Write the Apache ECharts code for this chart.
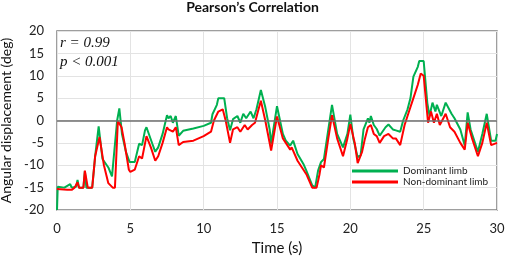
<!DOCTYPE html>
<html>
<head>
<meta charset="utf-8">
<script src="https://cdn.jsdelivr.net/npm/echarts@6/dist/echarts.min.js"></script>
<style>
  html, body { margin: 0; padding: 0; background: #fff; }
  #chart { width: 505px; height: 257px; }
</style>
</head>
<body>
<div id="chart"></div>
<script>
// values (time in s, angle in deg)
const timeDom = [0, 0.05, 0.5, 0.9, 1.0, 1.3, 1.4, 1.5, 1.8, 1.9, 2.0, 2.4, 2.6, 2.84, 3.1, 3.5, 3.75, 3.86, 4.1, 4.25, 4.43, 4.7, 4.95, 5.3, 5.6, 5.8, 6.0, 6.1, 6.5, 6.7, 6.9, 7.2, 7.5, 7.6, 7.75, 7.9, 8.1, 8.3, 8.6, 9.3, 10.0, 10.5, 10.6, 10.9, 11.0, 11.4, 11.6, 11.8, 12.0, 12.3, 12.5, 12.7, 12.9, 13.2, 13.4, 13.6, 13.9, 14.2, 14.5, 14.6, 15.0, 15.4, 15.6, 15.9, 16.1, 16.4, 16.8, 17.0, 17.4, 17.6, 17.8, 18.0, 18.2, 18.5, 18.75, 19.1, 19.5, 19.8, 20.0, 20.2, 20.5, 20.7, 20.9, 21.2, 21.3, 21.4, 21.6, 21.8, 22.0, 22.4, 22.6, 22.9, 23.1, 23.4, 23.6, 23.9, 24.1, 24.3, 24.6, 24.7, 25.0, 25.25, 25.4, 25.6, 25.8, 25.9, 26.2, 26.5, 26.9, 27.1, 27.5, 27.8, 28.0, 28.2, 28.7, 29.0, 29.3, 29.6, 29.9, 30.0];
const valDom = [-20, -14.8, -15, -14.2, -15, -14.8, -13.3, -15, -15, -11.3, -15, -15, -8, -1.3, -8.6, -10.5, -12.5, -12.5, 0, 2.7, -3, -7, -9.3, -9.3, -5.2, -5.5, -2.2, -1.5, -5.2, -7, -6, -3, 1.2, 0.5, 1, -0.5, 1, -3.4, -2.3, -1.8, -1.2, -0.5, 1.4, 3.5, 5, 5, 0.5, -2.2, 0.3, 1.0, -0.5, 1.5, 0.5, 2.0, 0.5, 2.5, 6.8, 3, -2, -5.2, 3.2, -3, -4.5, -5.6, -4.5, -7.5, -9.7, -11.2, -14.5, -15, -11.2, -9.3, -8.6, -2, 3.5, -3, -6, -3, 1.3, -4, -8.2, -7.8, -2, 0.5, -0.5, 1.0, -1, -1.9, -3.4, -1.5, -0.9, -2, -2.2, -2.5, 0, 2.5, 5, 9.8, 12, 13.3, 13.3, 3.9, 1, 4, 2, 3.5, 1, 4, 1.5, 0.5, -2, -5.6, 1.8, -2, -7, -3, 1.5, -4.5, -4.5, -3];
const timeNon = [0, 0.7, 1.0, 1.2, 1.4, 1.5, 1.8, 1.9, 2.1, 2.4, 2.6, 2.9, 3.2, 3.5, 3.8, 3.95, 4.15, 4.4, 4.6, 4.9, 5.0, 5.3, 5.6, 5.8, 6.1, 6.4, 6.7, 6.9, 7.2, 7.5, 7.6, 7.9, 8.1, 8.3, 8.6, 9.3, 10.0, 10.5, 10.7, 11.0, 11.3, 11.5, 11.8, 12.0, 12.3, 12.5, 12.8, 13.0, 13.3, 13.5, 13.7, 13.9, 14.2, 14.6, 15.0, 15.4, 15.9, 16.0, 16.4, 16.8, 17.0, 17.4, 17.7, 17.9, 18.0, 18.2, 18.5, 18.75, 19.1, 19.5, 19.8, 20.0, 20.3, 20.5, 20.8, 21.0, 21.2, 21.4, 21.6, 21.8, 22.0, 22.3, 22.6, 22.9, 23.1, 23.4, 23.7, 24.0, 24.3, 24.6, 24.8, 25.0, 25.2, 25.3, 25.5, 25.7, 25.9, 26.1, 26.5, 26.8, 27.1, 27.5, 27.8, 28.0, 28.3, 28.7, 29.0, 29.3, 29.6, 30.0];
const valNon = [-15.3, -15.5, -15.5, -15, -13.8, -15, -15, -11.2, -15, -15, -8, -3.7, -10, -14, -15, -15, -0.1, -1.5, -5, -11, -11.5, -11, -8, -8.5, -3.5, -6, -9, -8, -5, -1.5, -2, -2.5, -1.5, -5.5, -4.8, -4.5, -3.5, -2.5, 0, 2, 2.5, 0, -5, -2, -1.5, -2.5, -1, -2, -1, -0.5, 2, 4.4, 0, -6.7, 0.9, -4, -6.5, -6, -9, -11, -12, -15, -15, -12, -10, -10.5, -4, 1.2, -4, -8, -4, -0.8, -5, -9.5, -7, -4, -1.5, -1, -3, -3.5, -5, -3.5, -3, -4, -4, -5.5, -1, 2, 5, 8, 10.5, 10, 3, -0.5, 2, -0.5, 1.5, -1, 1.5, -1.5, -2.5, -5, -6.5, -0.5, -4, -8, -5, -0.5, -5.5, -5];
const yTicks = [-20, 20, 5];
const xTicks = [0, 30, 5];

const zip = (xs, ys) => xs.map((x, i) => [x, ys[i]]);

const chart = echarts.init(document.getElementById('chart'), null, { renderer: 'canvas' });

const option = {
  animation: false,
  title: {
    text: 'Pearson’s Correlation',
    left: 'center',
    top: 0,
    padding: [0, 0, 0, 0],
    textStyle: { fontFamily: 'Lato', fontWeight: 'bold', fontSize: 14, color: '#111' }
  },
  grid: {
    left: 57, right: 8, top: 31, bottom: 47,
    outerBoundsMode: 'none',
    containLabel: false,
    show: true, borderColor: '#7f7f7f', borderWidth: 1.5
  },
  legend: {
    orient: 'vertical',
    left: 347, top: 161,
    itemWidth: 46, itemHeight: 3, itemGap: 1,
    icon: 'rect',
    textStyle: { fontFamily: 'Lato', fontSize: 10, color: '#222' },
    data: ['Dominant limb', 'Non-dominant limb']
  },
  xAxis: {
    type: 'value',
    min: xTicks[0], max: xTicks[1], interval: xTicks[2],
    name: 'Time (s)', nameLocation: 'middle', nameGap: 31,
    nameTextStyle: { fontFamily: 'Lato', fontSize: 15, color: '#111' },
    axisLine: { show: false },
    axisTick: { show: false },
    axisLabel: { fontFamily: 'Lato', fontSize: 13, color: '#222', margin: 12 },
    splitLine: { show: true, lineStyle: { color: '#e3e3e3', width: 1 } }
  },
  yAxis: {
    type: 'value',
    min: yTicks[0], max: yTicks[1], interval: yTicks[2],
    name: 'Angular displacement (deg)', nameLocation: 'middle', nameGap: 38,
    nameTextStyle: { fontFamily: 'Lato', fontSize: 14, color: '#111' },
    axisLine: { show: false },
    axisTick: { show: false },
    axisLabel: { fontFamily: 'Lato', fontSize: 13, color: '#222', margin: 13 },
    splitLine: { show: true, lineStyle: { color: '#e3e3e3', width: 1 } }
  },
  graphic: [
    { type: 'text', x: 60, y: 36, z: 100, style: { text: 'r = 0.99', font: 'italic 15px Liberation Serif', fill: '#111', textAlign: 'left', textVerticalAlign: 'top' } },
    { type: 'text', x: 60, y: 55, z: 100, style: { text: 'p < 0.001', font: 'italic 15px Liberation Serif', fill: '#111', textAlign: 'left', textVerticalAlign: 'top' } }
  ],
  series: [
    {
      name: 'Dominant limb', type: 'line',
      data: zip(timeDom, valDom),
      showSymbol: false, symbol: 'none',
      color: '#00b050',
      lineStyle: { width: 2, color: '#00b050' },
      z: 2,
      markLine: {
        silent: true, symbol: 'none', label: { show: false },
        lineStyle: { color: '#6e6e6e', width: 1.5, type: 'solid' },
        data: [{ yAxis: 0 }]
      }
    },
    {
      name: 'Non-dominant limb', type: 'line',
      data: zip(timeNon, valNon),
      showSymbol: false, symbol: 'none',
      color: '#ff0000',
      lineStyle: { width: 2, color: '#ff0000' },
      z: 3
    }
  ]
};

chart.setOption(option);
</script>
</body>
</html>
